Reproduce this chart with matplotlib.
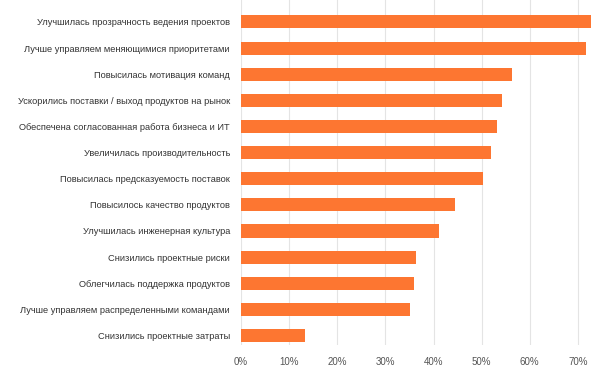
import matplotlib.pyplot as plt
from matplotlib.ticker import FuncFormatter

plt.rcParams['font.family'] = ['Liberation Sans', 'DejaVu Sans']

# results, percent of respondents
labels = [
    'Улучшилась прозрачность ведения проектов',
    'Лучше управляем меняющимися приоритетами',
    'Повысилась мотивация команд',
    'Ускорились поставки / выход продуктов на рынок',
    'Обеспечена согласованная работа бизнеса и ИТ',
    'Увеличилась производительность',
    'Повысилась предсказуемость поставок',
    'Повысилось качество продуктов',
    'Улучшилась инженерная культура',
    'Снизились проектные риски',
    'Облегчилась поддержка продуктов',
    'Лучше управляем распределенными командами',
    'Снизились проектные затраты',
]
values = [72.8, 71.6, 56.4, 54.3, 53.1, 52.0, 50.2, 44.4, 41.2, 36.4, 36.0, 35.1, 13.3]
xticks = [0, 10, 20, 30, 40, 50, 60, 70]

fig = plt.figure(figsize=(6, 3.79), dpi=100)
ax = fig.add_axes([0.4017, 0.09, 0.5983, 0.91])

pos = list(range(len(labels)))
ax.barh(pos, values, height=0.5, color='#fd7631', zorder=3)

ax.set_yticks(pos)
ax.set_yticklabels(labels)
ax.set_ylim(len(labels) - 1 + 0.36, -0.84)
ax.set_xlim(0, 74.6)
ax.set_xticks(xticks)
ax.xaxis.set_major_formatter(FuncFormatter(lambda v, _: f'{v:.0f}%'))

ax.grid(axis='x', color='#e4e4e4', linewidth=0.8, zorder=0)
for s in ax.spines.values():
    s.set_visible(False)
ax.tick_params(axis='y', length=0, pad=8, labelsize=6.7, labelcolor='#333333')
ax.tick_params(axis='x', length=0, pad=9, labelsize=7, labelcolor='#555555')

fig.savefig('out.png', dpi=100)
